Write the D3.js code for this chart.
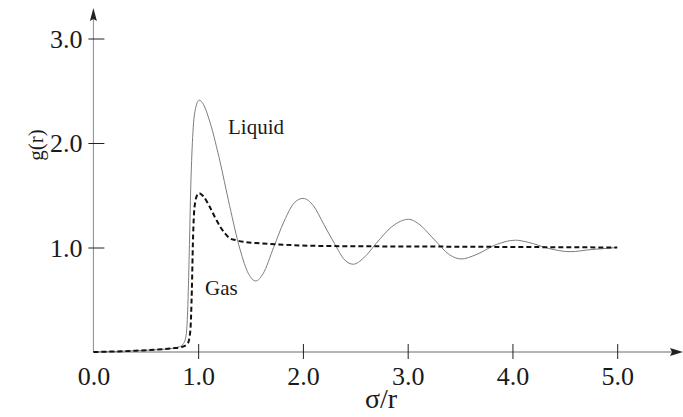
<!DOCTYPE html>
<html>
<head>
<meta charset="utf-8">
<script src="https://cdn.jsdelivr.net/npm/d3@7"></script>
<style>
  html, body { margin: 0; padding: 0; background: #fff; }
  svg { display: block; }
  text { font-family: "Liberation Serif", "DejaVu Serif", serif; fill: #1a1a1a; }
</style>
</head>
<body>
<svg id="chart" width="683" height="417"></svg>
<script>
// Radial distribution function g(r): liquid vs gas
const liquidX = [0.0, 0.2, 0.4, 0.6, 0.75, 0.82, 0.86, 0.885, 0.90, 0.915, 0.93, 0.95, 0.975, 1.01, 1.05, 1.1, 1.2, 1.3, 1.4, 1.48, 1.55, 1.62, 1.72, 1.82, 1.92, 2.0, 2.1, 2.2, 2.3, 2.4, 2.48, 2.58, 2.7, 2.85, 3.01, 3.1, 3.25, 3.4, 3.51, 3.65, 3.85, 4.03, 4.15, 4.35, 4.55, 4.75, 5.0];
const liquidY = [0.0, 0.005, 0.012, 0.022, 0.035, 0.05, 0.08, 0.16, 0.40, 0.95, 1.60, 2.10, 2.33, 2.41, 2.37, 2.24, 1.86, 1.40, 0.98, 0.75, 0.68, 0.75, 1.0, 1.25, 1.43, 1.47, 1.40, 1.22, 1.04, 0.88, 0.84, 0.90, 1.04, 1.20, 1.27, 1.23, 1.08, 0.93, 0.89, 0.93, 1.03, 1.07, 1.05, 0.99, 0.96, 0.98, 1.0];

const gasX = [0.0, 0.2, 0.4, 0.6, 0.75, 0.85, 0.9, 0.925, 0.94, 0.95, 0.96, 0.975, 0.99, 1.01, 1.05, 1.11, 1.16, 1.21, 1.26, 1.30, 1.36, 1.43, 1.6, 1.75, 2.07, 2.5, 3.0, 4.0, 5.0];
const gasY = [0.0, 0.005, 0.012, 0.022, 0.035, 0.05, 0.08, 0.20, 0.60, 1.05, 1.32, 1.45, 1.50, 1.52, 1.49, 1.39, 1.29, 1.20, 1.13, 1.09, 1.07, 1.055, 1.04, 1.03, 1.017, 1.012, 1.01, 1.005, 1.0];

const xTicks = [0, 1, 2, 3, 4, 5];
const yTicks = [1, 2, 3];

const svg = d3.select("#chart");

const x = d3.scaleLinear().domain([0, 5]).range([93.4, 617.2]);
const y = d3.scaleLinear().domain([0, 3]).range([352, 38.5]);

// axis lines with arrowheads
svg.append("line")
  .attr("x1", x(0)).attr("x2", 676).attr("y1", y(0)).attr("y2", y(0))
  .attr("stroke", "#b5b5b5").attr("stroke-width", 2.2);
svg.append("path")
  .attr("d", `M683,${y(0)} L670,${y(0) - 4} L672,${y(0)} L670,${y(0) + 4} Z`)
  .attr("fill", "#222");

svg.append("line")
  .attr("x1", x(0)).attr("x2", x(0)).attr("y1", y(0)).attr("y2", 16)
  .attr("stroke", "#8a8a8a").attr("stroke-width", 1);
svg.append("path")
  .attr("d", `M${x(0)},8 L${x(0) - 3.5},21 L${x(0)},19 L${x(0) + 3.5},21 Z`)
  .attr("fill", "#222");

// x axis ticks + labels
const xAxis = d3.axisBottom(x)
  .tickValues(xTicks)
  .tickFormat(d3.format(".1f"))
  .tickSizeInner(0)
  .tickSizeOuter(0)
  .tickPadding(0);
const gx = svg.append("g").attr("transform", `translate(0,${y(0)})`).call(xAxis);
gx.select(".domain").remove();
gx.selectAll(".tick line")
  .attr("y1", d => d === 0 ? 0 : -8)
  .attr("y2", d => d === 0 ? 0 : 7)
  .attr("stroke", "#222").attr("stroke-width", 1);
gx.selectAll(".tick text")
  .attr("y", 33).attr("dy", null)
  .style("font-family", "'Liberation Serif', 'DejaVu Serif', serif")
  .style("font-size", "26px").attr("fill", "#1a1a1a");

// y axis ticks + labels
const yAxis = d3.axisLeft(y)
  .tickValues(yTicks)
  .tickFormat(d3.format(".1f"))
  .tickSizeInner(0)
  .tickSizeOuter(0)
  .tickPadding(0);
const gy = svg.append("g").attr("transform", `translate(${x(0)},0)`).call(yAxis);
gy.select(".domain").remove();
gy.selectAll(".tick line")
  .attr("x1", -5).attr("x2", 11)
  .attr("stroke", "#222").attr("stroke-width", 1);
gy.selectAll(".tick text")
  .attr("x", -11).attr("dy", "0.33em")
  .style("font-family", "'Liberation Serif', 'DejaVu Serif', serif")
  .style("font-size", "26px").attr("fill", "#1a1a1a");

// axis titles
svg.append("text")
  .attr("x", 381).attr("y", 408)
  .attr("text-anchor", "middle")
  .style("font-size", "28px")
  .text("σ/r");

svg.append("text")
  .attr("transform", "translate(43,145) rotate(-90)")
  .attr("text-anchor", "middle")
  .style("font-size", "21px")
  .text("g(r)");

// curves
const line = d3.line()
  .x(d => x(d[0]))
  .y(d => y(d[1]))
  .curve(d3.curveMonotoneX);

const liquid = liquidX.map((v, i) => [v, liquidY[i]]);
const gas = gasX.map((v, i) => [v, gasY[i]]);

svg.append("path")
  .datum(liquid)
  .attr("d", line)
  .attr("fill", "none")
  .attr("stroke", "#7d7d7d")
  .attr("stroke-width", 1);

svg.append("path")
  .datum(gas)
  .attr("d", line)
  .attr("fill", "none")
  .attr("stroke", "#111")
  .attr("stroke-width", 2)
  .attr("stroke-dasharray", "5,3");

// series labels
svg.append("text")
  .attr("x", 228).attr("y", 134)
  .style("font-size", "21px")
  .text("Liquid");

svg.append("text")
  .attr("x", 205).attr("y", 295)
  .style("font-size", "21px")
  .text("Gas");
</script>
</body>
</html>
